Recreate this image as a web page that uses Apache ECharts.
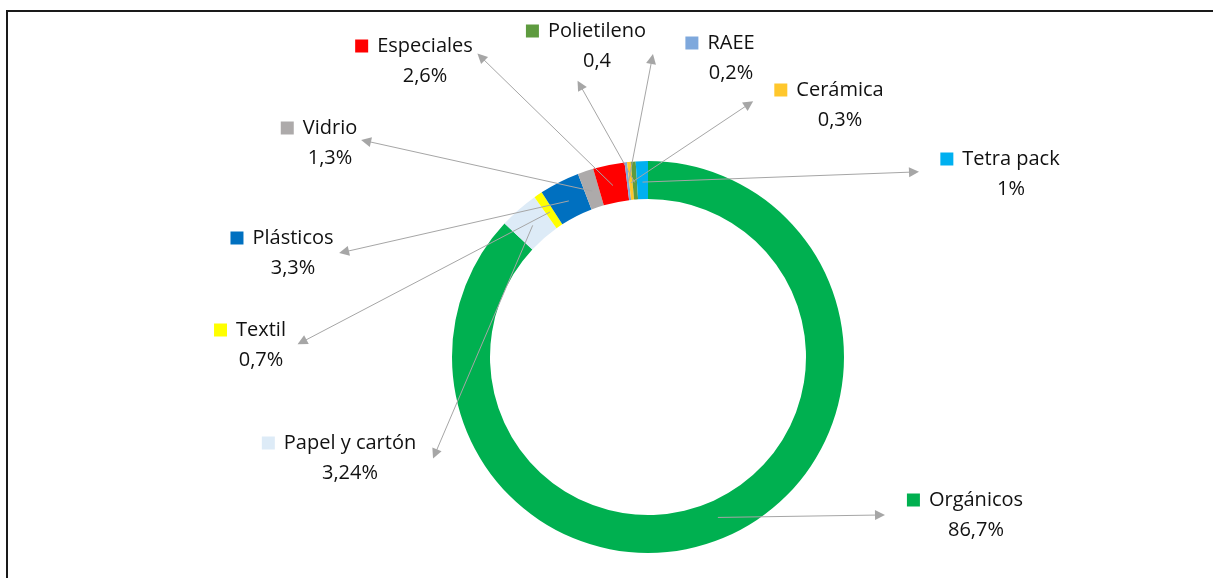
<!DOCTYPE html>
<html>
<head>
<meta charset="utf-8">
<script src="https://cdn.jsdelivr.net/npm/echarts@6/dist/echarts.min.js"></script>
<style>
  html, body { margin: 0; padding: 0; background: #fff; overflow: hidden; }
  #chart { width: 1213px; height: 578px; }
  #frame { position: absolute; left: 6px; top: 10px; width: 1400px; height: 800px;
           border: 2px solid #1a1a1a; pointer-events: none; }
</style>
</head>
<body>
<div id="chart"></div>
<div id="frame"></div>
<script>
// Composición de residuos (sentido horario desde las 12)
const categories = ['Orgánicos', 'Papel y cartón', 'Textil', 'Plásticos', 'Vidrio',
                    'Especiales', 'RAEE', 'Cerámica', 'Polietileno', 'Tetra pack'];
const values = [86.7, 3.24, 0.7, 3.3, 1.3, 2.6, 0.2, 0.3, 0.4, 1];
const valueLabels = ['86,7%', '3,24%', '0,7%', '3,3%', '1,3%', '2,6%', '0,2%', '0,3%', '0,4', '1%'];

const colors = ['#00B050', '#DDEBF7', '#FFFF00', '#0070C0', '#ADAAAA',
                '#FF0000', '#7EA8DC', '#FFC72C', '#5E9B3F', '#00B0F0'];

// Label block centres (manually placed) and arrow tips pointing at them
const labelPos = [[965, 515], [339, 458], [250, 345], [282, 253], [319, 143],
                  [414, 61], [720, 58], [829, 105], [586, 46], [1000, 174]];
const arrowTips = [[880, 515], [435, 454], [302, 342], [344, 252], [366, 141],
                   [481, 57], [652, 59], [749, 104], [580, 85], [914, 172]];

const W = 1213, H = 578;
const center = [648, 357];
const radii = [158, 196];
const FONT = '"Open Sans", "Noto Sans", sans-serif';

// Leader lines start at the middle of the ring, at each slice's mid angle
const total = values.reduce((a, b) => a + b, 0);
const rMid = 175;
let cum = 0;
const leaderLines = values.map((v, i) => {
  const a = (90 - 360 * (cum + v / 2) / total) * Math.PI / 180;
  cum += v;
  const start = [center[0] + rMid * Math.cos(a), center[1] - rMid * Math.sin(a)];
  return { coords: [start, arrowTips[i]] };
});

const rich = {
  name: { fontFamily: FONT, fontSize: 20, color: '#111', lineHeight: 30 },
  val: { fontFamily: FONT, fontSize: 20, color: '#111', lineHeight: 30 },
  gap: { width: 9 },
  pad: { width: 22 }
};
colors.forEach((c, i) => { rich['s' + i] = { width: 13, height: 13, backgroundColor: c }; });

const chart = echarts.init(document.getElementById('chart'), null, { renderer: 'canvas' });
chart.setOption({
  animation: false,
  backgroundColor: '#fff',
  grid: { left: 0, right: 0, top: 0, bottom: 0 },
  xAxis: { type: 'value', min: 0, max: W, show: false },
  yAxis: { type: 'value', min: 0, max: H, inverse: true, show: false },
  series: [
    {
      type: 'pie',
      center: center,
      radius: radii,
      startAngle: 90,
      clockwise: true,
      avoidLabelOverlap: false,
      itemStyle: { borderWidth: 0 },
      emphasis: { disabled: true },
      label: {
        show: true,
        position: 'outside',
        formatter: p => '{s' + p.dataIndex + '| }{gap| }{name|' + p.name + '}\n{pad| }{val|' + valueLabels[p.dataIndex] + '}',
        rich: rich
      },
      labelLine: { show: false },
      labelLayout: params => {
        const p = labelPos[params.dataIndex];
        return { x: p[0], y: p[1], align: 'center', verticalAlign: 'middle' };
      },
      data: categories.map((name, i) => ({
        name: name,
        value: values[i],
        itemStyle: { color: colors[i] }
      }))
    },
    {
      type: 'lines',
      coordinateSystem: 'cartesian2d',
      z: 5,
      silent: true,
      symbol: ['none', 'triangle'],
      symbolSize: 10,
      lineStyle: { color: '#A6A6A6', width: 1, opacity: 1 },
      data: leaderLines
    }
  ]
});
</script>
</body>
</html>
